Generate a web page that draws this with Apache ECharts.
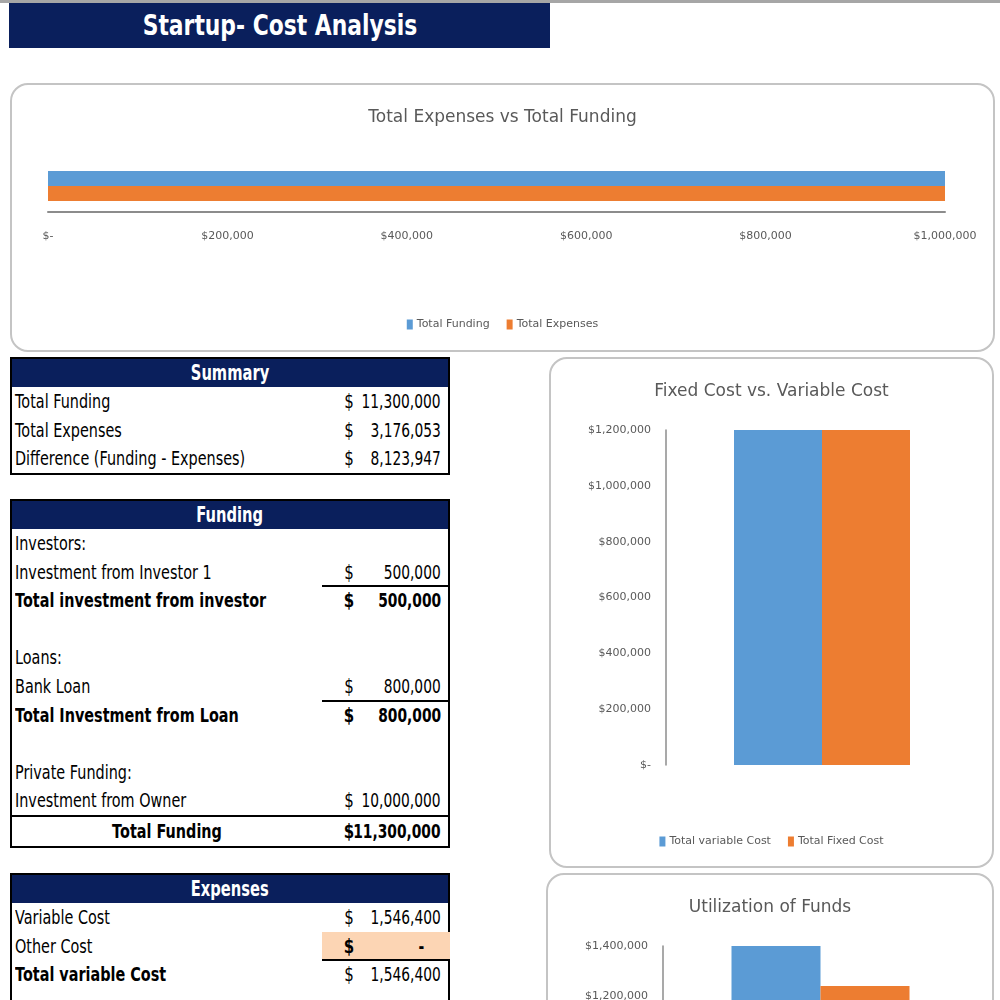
<!DOCTYPE html>
<html>
<head>
<meta charset="utf-8">
<script src="https://cdn.jsdelivr.net/npm/echarts@6/dist/echarts.min.js"></script>
<style>
  html, body { margin:0; padding:0; width:1000px; height:1000px; overflow:hidden; background:#fff; }
  body { position:relative; font-family:'DejaVu Sans',sans-serif; }
  .topline { position:absolute; left:0; top:0; width:1000px; height:3px; background:#a6a6a6; }
  .titlebar { position:absolute; left:9px; top:3px; width:541px; height:45px; background:#0a1f5c;
    color:#fff; font-weight:bold; font-size:28px; text-align:center; line-height:45px; }
  .titlebar span { display:inline-block; transform:scaleX(0.78); transform-origin:center; }
  .chartbox { position:absolute; border:2px solid #c4c4c4; border-radius:18px; box-sizing:border-box; background:#fff; }
  .tbl { position:absolute; left:10px; width:440px; border:2px solid #000; box-sizing:border-box; }
  .thead { height:28px; background:#0a1f5c; color:#fff; font-weight:bold; font-size:21px; text-align:center; line-height:28px; }
  .thead span { display:inline-block; transform:scaleX(0.7); transform-origin:center; }
  .row { position:relative; height:28.6px; font-size:20px; line-height:28.6px; color:#000; }
  .row .lab { position:absolute; left:3px; white-space:nowrap; display:inline-block; transform:scaleX(0.72); transform-origin:left center; }
  .row .cur { position:absolute; left:322px; width:30px; text-align:center; display:inline-block; transform:scaleX(0.75); }
  .row .val { position:absolute; right:7px; text-align:right; white-space:nowrap; display:inline-block; transform:scaleX(0.69); transform-origin:right center; }
  .row .val.dash { right:24px; font-weight:bold; }
  .row .cell { position:absolute; left:310px; width:128px; top:0; bottom:0; }
  .row.bold { font-weight:bold; }
  .row.center .lab { left:0; width:310px; text-align:center; transform-origin:center; }
  .row.topline-val .cell { border-top:2px solid #000; top:-1px; }
  .row.topline-full { border-top:2px solid #000; }
  .row.fill .cell { background:#fcd5b4; }
</style>
</head>
<body>
<div class="topline"></div>
<div class="titlebar"><span id="mainTitle"></span></div>

<div id="c1" class="chartbox" style="left:10px;top:83px;width:985px;height:269px;"></div>
<div id="c2" class="chartbox" style="left:549px;top:357px;width:445px;height:511px;"></div>
<div id="c3" class="chartbox" style="left:546px;top:873px;width:448px;height:520px;"></div>

<div id="tSummary" class="tbl" style="top:357px;"></div>
<div id="tFunding" class="tbl" style="top:499px;"></div>
<div id="tExpenses" class="tbl" style="top:873px;height:300px;"></div>

<script>
// ---------- DATA ----------
const pageTitle = 'Startup- Cost Analysis';

const summaryTitle = 'Summary';
const summaryLabels = ['Total Funding', 'Total Expenses', 'Difference (Funding - Expenses)'];
const summaryValues = [11300000, 3176053, 8123947];

const fundingTitle = 'Funding';
const fundingLabels = ['Investors:', 'Investment from Investor 1', 'Total investment from investor', '',
  'Loans:', 'Bank Loan', 'Total Investment from Loan', '',
  'Private Funding:', 'Investment from Owner', 'Total Funding'];
const fundingValues = [null, 500000, 500000, null, null, 800000, 800000, null, null, 10000000, 11300000];

const expensesTitle = 'Expenses';
const expensesLabels = ['Variable Cost', 'Other Cost', 'Total variable Cost'];
const expensesValues = [1546400, 0, 1546400];

// chart 1
const c1Title = 'Total Expenses vs Total Funding';
const c1Category = [''];
const c1SeriesNames = ['Total Funding', 'Total Expenses'];
const c1Funding = [11300000];
const c1Expenses = [3176053];
const c1Ticks = { min: 0, max: 1000000, interval: 200000 };

// chart 2
const c2Title = 'Fixed Cost vs. Variable Cost';
const c2Category = [''];
const c2SeriesNames = ['Total variable Cost', 'Total Fixed Cost'];
const c2Variable = [1546400];
const c2Fixed = [1629653];
const c2Ticks = { min: 0, max: 1200000, interval: 200000 };

// chart 3
const c3Title = 'Utilization of Funds';
const c3Category = [''];
const c3SeriesNames = ['Total Funding', 'Total Expenses'];
const c3A = [1400000];
const c3B = [1240000];
const c3Ticks = { min: 0, max: 1400000, interval: 200000 };

// ---------- STYLES (kept separate from data) ----------
const fundingRowStyles = ['', '', 'bold topline-val', '', '', '', 'bold topline-val', '', '', '', 'bold center topline-full'];
const expensesRowStyles = ['', 'fill', 'bold-label topline-val'];
const BLUE = '#5b9bd5', ORANGE = '#ed7d31', GREY = '#595959';
const FONT = "'DejaVu Sans',sans-serif";

document.getElementById('mainTitle').textContent = pageTitle;

function fmtNum(v) { return v === 0 ? '-' : v.toLocaleString('en-US'); }
function fmtAxis(v) { return v === 0 ? '$-' : '$' + v.toLocaleString('en-US'); }

function buildTable(el, title, labels, values, styles) {
  let html = '<div class="thead"><span>' + title + '</span></div>';
  labels.forEach((lab, i) => {
    let st = (styles && styles[i]) || '';
    let cls = 'row ' + st.replace('bold-label', '');
    const v = values[i];
    let labHtml = st.indexOf('bold-label') >= 0 ? '<b>' + lab + '</b>' : lab;
    let valHtml = '';
    if (v !== null && v !== undefined) {
      valHtml = '<span class="cur"' + (v === 0 ? ' style="font-weight:bold"' : '') + '>$</span><span class="val' + (v === 0 ? ' dash' : '') + '">' + fmtNum(v) + '</span>';
    }
    html += '<div class="' + cls + '"><div class="cell"></div><span class="lab">' + labHtml + '</span>' + valHtml + '</div>';
  });
  el.innerHTML = html;
}
buildTable(document.getElementById('tSummary'), summaryTitle, summaryLabels, summaryValues, []);
buildTable(document.getElementById('tFunding'), fundingTitle, fundingLabels, fundingValues, fundingRowStyles);
buildTable(document.getElementById('tExpenses'), expensesTitle, expensesLabels, expensesValues, expensesRowStyles);

function titleOpt(text, size) {
  return { text: text, left: 'center', top: 19, textStyle: { color: GREY, fontFamily: FONT, fontWeight: 'normal', fontSize: size } };
}
function legendOpt(top) {
  return { top: top, left: 'center', itemWidth: 6, itemHeight: 10, itemGap: 17, icon: 'rect',
    textStyle: { color: GREY, fontFamily: FONT, fontSize: 11, padding: [0, 0, 0, -1] } };
}

// chart 1 : horizontal bars
const ch1 = echarts.init(document.getElementById('c1'), null, { renderer: 'canvas' });
ch1.setOption({
  animation: false,
  title: titleOpt(c1Title, 17),
  legend: legendOpt(229),
  grid: { left: 36, right: 48, top: 75, height: 52 },
  xAxis: { type: 'value', min: c1Ticks.min, max: c1Ticks.max, interval: c1Ticks.interval,
    axisLine: { show: true, lineStyle: { color: '#8c8c8c', width: 2 } }, axisTick: { show: false },
    splitLine: { show: false },
    axisLabel: { formatter: fmtAxis, color: GREY, fontFamily: FONT, fontSize: 11, margin: 19 } },
  yAxis: { type: 'category', data: c1Category, inverse: true, axisLine: { show: false }, axisTick: { show: false }, axisLabel: { show: false } },
  series: [
    { name: c1SeriesNames[0], type: 'bar', data: c1Funding, barWidth: 15, barGap: '0%', itemStyle: { color: BLUE } },
    { name: c1SeriesNames[1], type: 'bar', data: c1Expenses, barWidth: 15, barGap: '0%', itemStyle: { color: ORANGE } }
  ]
});

function columnChart(id, title, cats, names, a, b, ticks, legendTop, gridH, bw) {
  const ch = echarts.init(document.getElementById(id), null, { renderer: 'canvas' });
  ch.setOption({
    animation: false,
    title: titleOpt(title, 17),
    legend: legendOpt(legendTop),
    grid: { left: 115, right: 14, top: 71, height: gridH },
    xAxis: { type: 'category', data: cats, axisLine: { show: false }, axisTick: { show: false }, axisLabel: { show: false } },
    yAxis: { type: 'value', min: ticks.min, max: ticks.max, interval: ticks.interval,
      axisLine: { show: true, lineStyle: { color: '#8c8c8c', width: 1.5 } }, axisTick: { show: false },
      splitLine: { show: false },
      axisLabel: { formatter: fmtAxis, color: GREY, fontFamily: FONT, fontSize: 11, margin: 15 } },
    series: [
      { name: names[0], type: 'bar', data: a, barWidth: bw, barGap: '0%', itemStyle: { color: BLUE } },
      { name: names[1], type: 'bar', data: b, barWidth: bw, barGap: '0%', itemStyle: { color: ORANGE } }
    ]
  });
}
columnChart('c2', c2Title, c2Category, c2SeriesNames, c2Variable, c2Fixed, c2Ticks, 472, 335, 88);
columnChart('c3', c3Title, c3Category, c3SeriesNames, c3A, c3B, c3Ticks, 470, 350, 89);
</script>
</body>
</html>
